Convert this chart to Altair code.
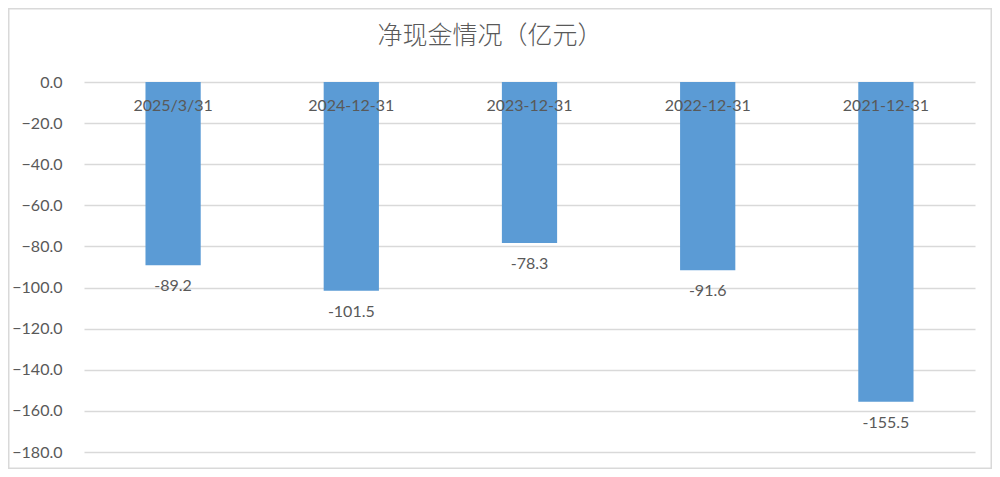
import altair as alt
import pandas as pd

categories = ["2025/3/31", "2024-12-31", "2023-12-31", "2022-12-31", "2021-12-31"]
values = [-89.2, -101.5, -78.3, -91.6, -155.5]
y_ticks = [0, -20, -40, -60, -80, -100, -120, -140, -160, -180]
title_text = "净现金情况（亿元）"

df = pd.DataFrame({"category": categories, "value": values})
df["label"] = df["value"].map(lambda v: f"{v:.1f}")

W, H = 891, 370
TXT = "#595959"
GRID = "#D9D9D9"
FONT = "Lato"

x = alt.X("category:N", sort=categories, axis=None,
          scale=alt.Scale(paddingInner=0.69, paddingOuter=0.345))
y_scale = alt.Scale(domain=[-180, 0], nice=False, zero=False)

bars = alt.Chart(df).mark_bar(color="#5B9BD5").encode(
    x=x,
    y=alt.Y("value:Q", scale=y_scale,
            axis=alt.Axis(values=y_ticks, format=".1f", title=None,
                          grid=True, gridColor=GRID, gridWidth=1.3,
                          domain=False, ticks=False, tickSize=0,
                          labelPadding=22, labelFont=FONT, labelFontSize=16,
                          labelColor=TXT)),
    y2=alt.datum(0),
)

cat_labels = alt.Chart(df).mark_text(
    font=FONT, fontSize=16, color=TXT, baseline="middle", align="center"
).encode(x=x, y=alt.value(24), text="category:N")

val_labels = alt.Chart(df).mark_text(
    font=FONT, fontSize=16, color=TXT, baseline="middle", align="center", dy=21
).encode(x=x, y=alt.Y("value:Q", scale=y_scale), text="label:N")

title = alt.Chart(pd.DataFrame({"t": [title_text]})).mark_text(
    font="Noto Sans CJK SC", fontSize=25, color=TXT, baseline="middle",
    align="center", fontWeight=300
).encode(x=alt.value(406), y=alt.value(-46), text="t:N")

border = alt.Chart(pd.DataFrame({"t": [0]})).mark_rect(
    fillOpacity=0, stroke=GRID, strokeWidth=1.5
).encode(x=alt.value(-75.25), x2=alt.value(907.25),
         y=alt.value(-73.25), y2=alt.value(386.25))

chart = alt.layer(bars, cat_labels, val_labels, title, border).properties(
    width=W, height=H,
    background="white",
    autosize=alt.AutoSizeParams(type="none"),
    padding={"left": 76, "top": 74, "right": 17, "bottom": 17},
).configure_view(stroke="transparent", strokeWidth=0)

chart.save("out.html", embed_options={"renderer": "svg", "actions": False})
